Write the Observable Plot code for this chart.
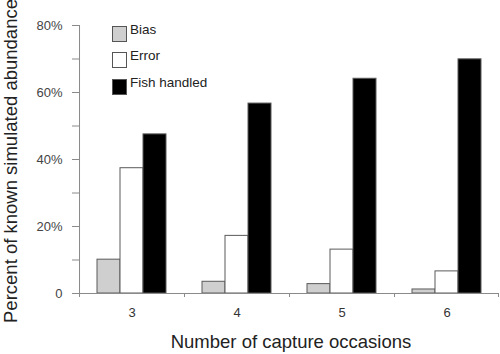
<!DOCTYPE html>
<html>
<head>
<meta charset="utf-8">
<script src="https://cdn.jsdelivr.net/npm/d3@7"></script>
<script src="https://cdn.jsdelivr.net/npm/@observablehq/plot@0.6"></script>
<style>
  html, body { margin: 0; padding: 0; background: #fff; }
  #wrap { position: relative; width: 500px; height: 354px; font-family: "Liberation Sans", Arial, sans-serif; color: #222; }
  #chart svg { display: block; }
  .ytitle { position: absolute; left: 11px; top: 161px; transform: translate(-50%, -50%) rotate(-90deg); white-space: nowrap; font-size: 18.5px; }
  .xtitle { position: absolute; left: 291px; top: 342px; transform: translate(-50%, -50%); white-space: nowrap; font-size: 18.5px; }
  .leg { position: absolute; left: 112px; font-size: 13.5px; }
  .sw { position: absolute; left: 0; width: 13px; height: 14px; border: 1px solid #555; }
  .lt { position: absolute; left: 18px; white-space: nowrap; line-height: 1; }
</style>
</head>
<body>
<div id="wrap">
  <div id="chart"></div>
  <div class="ytitle">Percent of known simulated abundance</div>
  <div class="xtitle">Number of capture occasions</div>
  <div id="legend"></div>
</div>
<script>
const categories = ["3", "4", "5", "6"];
const series = ["Bias", "Error", "Fish handled"];
const seriesColors = ["#cfcfcf", "#ffffff", "#000000"];
const bias = [10.1, 3.5, 2.8, 1.2];
const error = [37.4, 17.2, 13.1, 6.6];
const fishHandled = [47.5, 56.7, 64.1, 69.9];
const yTicks = [0, 10, 20, 30, 40, 50, 60, 70, 80];

const values = [bias, error, fishHandled];
const data = categories.flatMap((c, i) => series.map((s, j) => ({cat: c, series: s, value: values[j][i]})));

const W = 500, H = 354, ML = 77, MR = 0, MT = 25, MB = 61;
const padOuter = 0.76;
const facetW = (W - ML - MR) / categories.length;
const step = facetW / (series.length + 2 * padOuter);
const edgeOffset = step * (0.5 + padOuter);
const axisGray = "#8a8a8a";

const chart = Plot.plot({
  width: W, height: H,
  marginLeft: ML, marginRight: MR, marginTop: MT, marginBottom: MB,
  style: {fontFamily: "'Liberation Sans', Arial, sans-serif", fontSize: "13px", color: "#333", background: "#fff"},
  fx: {domain: categories, padding: 0, axis: "bottom", label: null, tickSize: 0, tickPadding: 14},
  x: {domain: series, paddingInner: 0, paddingOuter: padOuter, axis: null},
  y: {domain: [0, 80], axis: null},
  color: {domain: series, range: seriesColors},
  marks: [
    Plot.barY(data, {fx: "cat", x: "series", y: "value", fill: "series", stroke: "#5a5a5a", strokeWidth: 1}),
    Plot.ruleY([0], {stroke: axisGray}),
    Plot.ruleX(["3"], {fx: d => d, x: () => "Bias", dx: -edgeOffset, y1: 0, y2: 80, stroke: axisGray}),
    Plot.ruleX(categories, {fx: d => d, x: () => "Bias", dx: -edgeOffset, y1: 0, y2: 0, insetBottom: -4, stroke: axisGray}),
    Plot.ruleX(["6"], {fx: d => d, x: () => "Fish handled", dx: edgeOffset - 1, y1: 0, y2: 0, insetBottom: -4, stroke: axisGray}),
    Plot.axisY({ticks: yTicks, tickSize: 7, tickPadding: 10, stroke: axisGray, fill: "#444", fontSize: 13, label: null,
      tickFormat: d => d === 0 ? "0" : (d % 20 === 0 ? d + "%" : "")})
  ]
});
document.getElementById("chart").appendChild(chart);

// legend
const legend = document.getElementById("legend");
const legTops = [26, 52, 79];
series.forEach((s, i) => {
  const g = document.createElement("div");
  g.className = "leg";
  g.style.top = legTops[i] + "px";
  const sw = document.createElement("div");
  sw.className = "sw";
  sw.style.background = seriesColors[i];
  const t = document.createElement("div");
  t.className = "lt";
  t.style.top = "-3px";
  t.textContent = s;
  g.appendChild(sw); g.appendChild(t);
  legend.appendChild(g);
});
</script>
</body>
</html>
